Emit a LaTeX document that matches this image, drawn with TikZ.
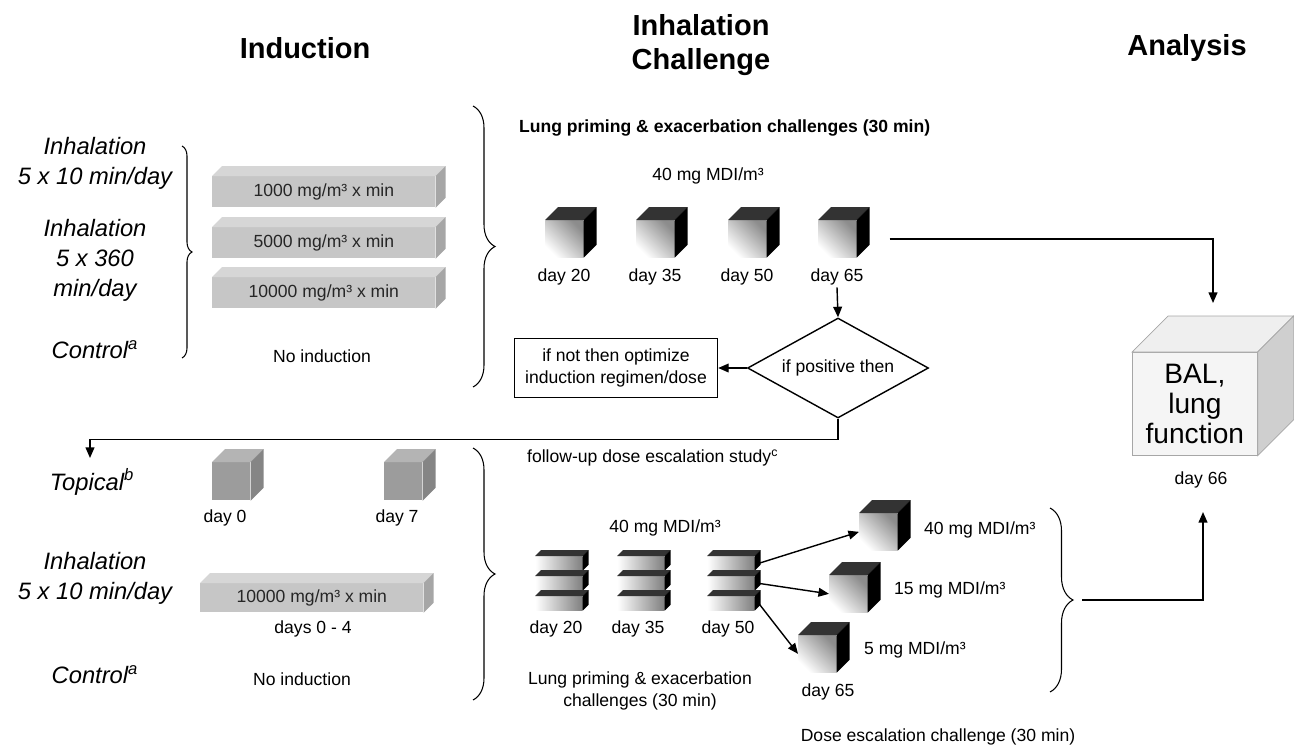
\documentclass[tikz,border=0pt]{standalone}
\usepackage{fontspec}
\setmainfont{Liberation Sans}
\usetikzlibrary{shapes.geometric,decorations.pathreplacing,arrows.meta}

\definecolor{barFront}{HTML}{C6C6C6}
\definecolor{barTop}{HTML}{D6D6D6}
\definecolor{barSide}{HTML}{A6A6A6}
\definecolor{greyFront}{HTML}{9C9C9C}
\definecolor{greyTop}{HTML}{B4B4B4}
\definecolor{greySide}{HTML}{858585}
\definecolor{cubeTop}{HTML}{333333}
\definecolor{balFace}{HTML}{F5F5F5}
\definecolor{balTop}{HTML}{EFEFEF}
\definecolor{balSide}{HTML}{CFCFCF}

% top and right faces behind a front node: node, depth, top style, side style
\newcommand{\boxfaces}[4]{
    \path[#3] (#1.north west) -- ++(#2,-#2) -- ([shift={(#2,-#2)}]#1.north east) -- (#1.north east) -- cycle;
    \path[#4] (#1.north east) -- ++(#2,-#2) -- ([shift={(#2,-#2)}]#1.south east) -- (#1.south east) -- cycle;
}

\begin{document}
\begin{tikzpicture}[x=0.02cm,y=-0.02cm,
    lbl/.style={font=\fontsize{10}{13}\selectfont, align=center, inner sep=1pt},
    hdr/.style={font=\fontsize{16.5}{19.5}\selectfont\bfseries, align=center},
    side/.style={font=\fontsize{13.5}{17}\selectfont\itshape, align=center},
    arr/.style={thick, -{Triangle[length=6pt,width=5pt]}},
    brc/.style={semithick, decorate, decoration={brace, amplitude=#1}},
    darkfront/.style={anchor=north west, inner sep=0, minimum width=0.76cm, minimum height=0.74cm,
        top color=black!45, bottom color=white, shading angle=-45},
    slab/.style={anchor=north west, inner sep=0, minimum width=0.94cm, minimum height=0.28cm,
        left color=white, right color=black!50},
    greyfront/.style={anchor=north west, inner sep=0, minimum width=0.76cm, minimum height=0.76cm, fill=greyFront},
    barfront/.style={anchor=north west, inner sep=0, minimum width=4.46cm, minimum height=#1,
        fill=barFront, font=\fontsize{10}{13}\selectfont, text=black!85}]
    \useasboundingbox (0,0) rectangle (1294,750);

    % headers
    \node[hdr] (hind) at (305,48) {Induction};
    \node[hdr] (hchal) at (701,45) {Inhalation\\Challenge};
    \node[hdr] (hana) at (1187,48) {Analysis};

    % upper induction part
    \node[side] (sinh1) at (95,163) {Inhalation\\5 x 10 min/day};
    \node[side] (sinh2) at (95,260) {Inhalation\\5 x 360\\min/day};
    \node[side] (sctl1) at (95,350) {Control\textsuperscript{a}};
    \draw[brc=0.2cm] (182,146) -- (182,358);

    \foreach \by/\dose [count=\i] in {176/1000,227/5000,277/10000} {
        \node[barfront=0.62cm] (bar\i) at (212,\by) {\dose\ mg/m³ x min};
        \boxfaces{bar\i}{10}{fill=barTop}{fill=barSide}
    }
    \node[lbl] (noind1) at (322,356) {No induction};

    % priming challenges
    \draw[brc=0.44cm] (473,106) -- (473,387);
    \node[lbl, font=\fontsize{10}{13}\selectfont\bfseries, anchor=west] (prime1) at (517,128)
        {Lung priming \& exacerbation challenges (30 min)};
    \node[lbl] (conc1) at (708,176) {40 mg MDI/m³};
    \foreach \cx/\day [count=\i] in {545/20,636/35,728/50,818/65} {
        \node[darkfront] (c\i) at (\cx,220) {};
        \boxfaces{c\i}{13}{fill=cubeTop}{fill=black}
        \node[lbl] (d\i) at (\cx+19,277) {day \day};
    }

    \node[draw, thick, diamond, aspect=1.8, inner sep=0, minimum width=3.62cm, minimum height=2cm, lbl]
        (dia) at (838,368) {if positive then};
    \node[draw, thick, lbl, minimum width=4.06cm, minimum height=1.18cm]
        (opt) at (616,368) {if not then optimize\\induction regimen/dose};
    \coordinate (topin) at (90,458);
    \draw[arr] (d4.south) -- (dia.north);
    \draw[arr] (dia.west) -- (opt.east);
    \draw[arr] (dia.south) -- ++(0,21) -| (topin);

    % analysis
    \node[anchor=north west, inner sep=0, minimum width=2.5cm, minimum height=2.06cm, fill=balFace,
        draw=gray!70, align=center, font=\fontsize{16}{17}\selectfont] (bal) at (1132,352) {BAL,\\lung\\function};
    \boxfaces{bal}{36}{fill=balTop, draw=gray!70}{fill=balSide, draw=gray!70}
    \node[lbl] (d66) at (1201,480) {day 66};
    \coordinate (balin) at (1213,303);
    \draw[arr] ([xshift=0.66cm]c4.east) -| (balin);

    % lower induction part
    \node[lbl, anchor=west] (follow) at (525,458) {follow-up dose escalation study\textsuperscript{c}};
    \node[side] (stop) at (92,482) {Topical\textsuperscript{b}};
    \node[side] (sinh3) at (95,578) {Inhalation\\5 x 10 min/day};
    \node[side] (sctl2) at (95,675) {Control\textsuperscript{a}};
    \foreach \gx/\day [count=\i] in {212/0,384/7} {
        \node[greyfront] (g\i) at (\gx,462) {};
        \boxfaces{g\i}{13}{fill=greyTop}{fill=greySide}
        \node[lbl] (gd\i) at (\gx+13,518) {day \day};
    }
    \node[barfront=0.58cm] (bar4) at (200,583) {10000 mg/m³ x min};
    \boxfaces{bar4}{10}{fill=barTop}{fill=barSide}
    \node[lbl] (days) at (313,629) {days 0 - 4};
    \node[lbl] (noind2) at (302,679) {No induction};

    % escalation
    \draw[brc=0.44cm] (473,448) -- (473,700);
    \node[lbl] (conc2) at (665,528) {40 mg MDI/m³};
    \foreach \sx/\day [count=\i] in {535/20,617/35,707/50} {
        \foreach \sy/\k in {556/a,576/b,596/c} {
            \node[slab] (s\i\k) at (\sx,\sy) {};
            \boxfaces{s\i\k}{6}{fill=cubeTop}{fill=black}
        }
        \node[lbl] (e\i) at (\sx+21,629) {day \day};
    }
    \node[lbl] (prime2) at (640,691) {Lung priming \& exacerbation\\challenges (30 min)};

    \node[darkfront] (ca) at (859,513) {};
    \boxfaces{ca}{13}{fill=cubeTop}{fill=black}
    \node[darkfront] (cb) at (829,575) {};
    \boxfaces{cb}{13}{fill=cubeTop}{fill=black}
    \node[darkfront] (cc) at (798,635) {};
    \boxfaces{cc}{13}{fill=cubeTop}{fill=black}
    \draw[arr] ([xshift=0.08cm]s3a.east) -- (ca.west);
    \draw[arr] ([xshift=0.08cm]s3b.east) -- (cb.west);
    \draw[arr] ([xshift=0.08cm]s3c.east) -- (cc.west);
    \node[lbl, anchor=west] (esc1) at (922,530) {40 mg MDI/m³};
    \node[lbl, anchor=west] (esc2) at (892,590) {15 mg MDI/m³};
    \node[lbl, anchor=west] (esc3) at (862,650) {5 mg MDI/m³};
    \node[lbl] (d65) at (828,692) {day 65};
    \node[lbl] (escl) at (938,737) {Dose escalation challenge (30 min)};

    \draw[brc=0.46cm] (1050,508) -- (1050,692);
    \coordinate (btip) at (1082,600);
    \coordinate (balin2) at (1203,512);
    \draw[arr] (btip) -| (balin2);
\end{tikzpicture}
\end{document}
